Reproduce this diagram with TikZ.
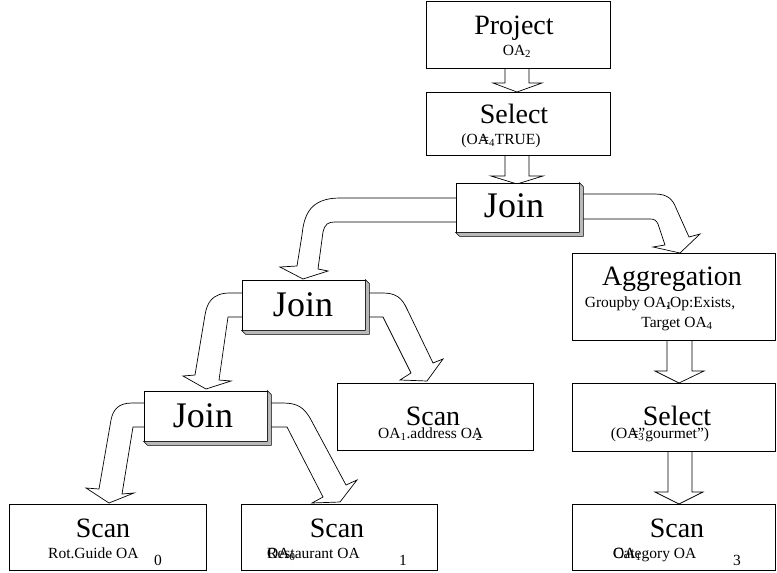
\documentclass[tikz,border=0pt]{standalone}
\usepackage{fontspec}
\setmainfont{Liberation Serif}
\begin{document}
\begin{tikzpicture}[x=1pt,y=-1pt,
  box/.style={draw, line width=0.8pt, fill=white, inner sep=0pt},
  big/.style={font=\fontsize{28}{30}\selectfont, anchor=base, inner sep=0pt},
  joinf/.style={font=\fontsize{36}{38}\selectfont, anchor=base, inner sep=0pt},
  small/.style={font=\fontsize{15.5}{17}\selectfont, anchor=base, inner sep=0pt},
  smallw/.style={small, anchor=base west},
  blockarrow/.style={draw, line width=0.7pt, fill=white, line join=miter},
  bevel/.style={draw, line width=0.6pt, fill=gray!55, line join=miter}]
\useasboundingbox (0,0) rectangle (777,573);

% ---------- block arrows ----------
\path[blockarrow] (505,68) -- (505,83) -- (493,83) -- (517,92) -- (542,83) -- (529,83) -- (529,68);
\path[blockarrow] (505,155) -- (505,176) -- (491,176) -- (517,184) -- (543,176) -- (529,176) -- (529,155);
\path[blockarrow] (667,340) -- (667,371) -- (655,371) -- (679,383) -- (704,371) -- (692,371) -- (692,340);
\path[blockarrow] (668,451) -- (668,492) -- (655,492) -- (679,504) -- (703,492) -- (692,492) -- (692,451);

% top Join -> mid Join
\path[blockarrow] (458,198) -- (340,198) .. controls (310,198) and (304,215) .. (302,235)
  -- (297,266) -- (280,267) -- (303,279) -- (328,271) -- (318,269) -- (323,232)
  .. controls (325,224) and (328,222) .. (335,222) -- (458,222);
% top Join -> Aggregation
\path[blockarrow] (581,194) -- (655,194) .. controls (668,194) and (673,200) .. (676,208)
  -- (689,237) -- (700,234) -- (680,253) -- (653,247) -- (665,245) -- (658,224)
  .. controls (656,220) and (654,219) .. (650,219) -- (581,219);
% mid Join -> lower Join
\path[blockarrow] (244,293) -- (230,293) .. controls (212,293) and (207,303) .. (205,315)
  -- (195,375) -- (183,376) -- (206,389) -- (231,381) -- (219,380) -- (228,317) -- (244,317);
% mid Join -> mid Scan
\path[blockarrow] (367,293) -- (383,293) .. controls (396,293) and (402,298) .. (407,309)
  -- (433,363) -- (443,359) -- (427,381) -- (400,380) -- (411,373) -- (383,317) -- (367,317);
% lower Join -> Scan 1
\path[blockarrow] (146,403) -- (132,403) .. controls (118,403) and (113,410) .. (111,420)
  -- (99,489) -- (86,488) -- (109,503) -- (134,493) -- (122,494) -- (133,427) -- (146,427);
% lower Join -> Scan 2
\path[blockarrow] (269,403) -- (283,403) .. controls (298,403) and (304,408) .. (310,418)
  -- (346,485) -- (357,480) -- (340,502) -- (312,503) -- (323,497) -- (287,427) -- (269,427);

% ---------- boxes ----------
\node[box, minimum width=184pt, minimum height=67pt] (project) at (518,34.5) {};
\node[box, minimum width=184pt, minimum height=63pt] (select) at (518,123.5) {};
\node[box, minimum width=123pt, minimum height=49pt] (joinT) at (517.5,207.5) {};
\node[box, minimum width=123pt, minimum height=50pt] (joinM) at (303.5,305) {};
\node[box, minimum width=123pt, minimum height=50pt] (joinL) at (205.5,416) {};
\node[box, minimum width=203pt, minimum height=87pt] (agg) at (673.5,296.5) {};
\node[box, minimum width=203pt, minimum height=68pt] (select2) at (673.5,417) {};
\node[box, minimum width=203pt, minimum height=66pt] (scanR) at (673.5,537) {};
\node[box, minimum width=196pt, minimum height=67pt] (scanM) at (435,416.5) {};
\node[box, minimum width=197pt, minimum height=66pt] (scan1) at (107.5,537) {};
\node[box, minimum width=196pt, minimum height=66pt] (scan2) at (339,537) {};

% bevels of the Join boxes
\foreach \j in {joinT,joinM,joinL}{
  \path[bevel] (\j.north east) -- ([shift={(4,4)}]\j.north east) -- ([shift={(4,4)}]\j.south east)
    -- ([shift={(4,4)}]\j.south west) -- (\j.south west) -- (\j.south east) -- cycle;
}

% ---------- texts ----------
\node[big] (tproject) at (514,34) {Project};
\node[small] (sproject) at (517,55) {OA\textsubscript{2}};
\node[big] (tselect) at (514,123) {Select};
\node[small] (sselect) at (501,144) {(OA\llap{=}\textsubscript{4}TRUE)};
\node[joinf] (tjoinT) at (514,217) {Join};
\node[joinf] (tjoinM) at (303,316) {Join};
\node[joinf] (tjoinL) at (203,427) {Join};
\node[big] (tagg) at (672,285) {Aggregation};
\node[small] (sagg1) at (660,307) {Groupby OA\rlap{\textsubscript{1}},Op:Exists,};
\node[small] (sagg2) at (677,327) {Target OA\textsubscript{4}};
\node[big] (tselect2) at (677,425) {Select};
\node[small] (sselect2) at (660,438) {(OA\llap{=}\rlap{\textsubscript{3}}"gourmet")};
\node[big] (tscanR) at (677,537) {Scan};
\node[smallw] (sscanR) at (613,558) {\rlap{OA\textsubscript{1}}Category OA};
\node[small] (nscanR) at (737,565) {3};
\node[big] (tscanM) at (433,425) {Scan};
\node[small] (sscanM) at (430,438) {OA\textsubscript{1}.address O\rlap{A}\hspace{0.25em}\textsubscript{2}};
\node[big] (tscan1) at (103,537) {Scan};
\node[smallw] (sscan1) at (48,558) {Rot.Guide OA};
\node[small] (nscan1) at (158,565) {0};
\node[big] (tscan2) at (337,537) {Scan};
\node[smallw] (sscan2) at (267,558) {\rlap{OA\textsubscript{0}}Restaurant OA};
\node[small] (nscan2) at (403,565) {1};
\end{tikzpicture}
\end{document}
